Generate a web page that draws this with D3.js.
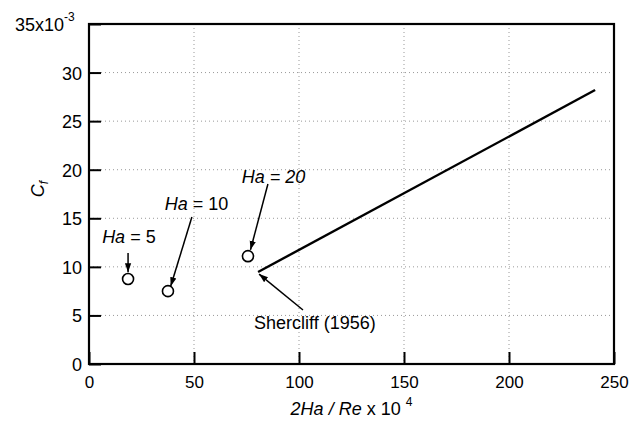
<!DOCTYPE html>
<html>
<head>
<meta charset="utf-8">
<script src="https://cdn.jsdelivr.net/npm/d3@7"></script>
<style>
  body { margin: 0; background: #fff; }
  text { font-family: "Liberation Sans", Arial, sans-serif; }
</style>
</head>
<body>
<div id="drawing_region"></div>
<script>
// measured points (x = 2Ha/Re x 10^4, y = Cf x 10^3)
const ha_labels = ["Ha = 5", "Ha = 10", "Ha = 20"];
const point_x = [18.6, 37.6, 75.7];
const point_y = [8.75, 7.5, 11.1];

// Shercliff (1956) line
const theory_x = [80.5, 241];
const theory_y = [9.47, 28.2];

const x_ticks = [0, 50, 100, 150, 200, 250];
const y_ticks = [0, 5, 10, 15, 20, 25, 30, 35];

// annotations: label position and arrow (data units)
const notes = [
    { pre: "Ha", post: " = 5",  all_italic: false, tx: 19.0,  ty: 12.45, ax0: 18.6,  ay0: 11.43, ax1: 18.6, ay1: 9.45 },
    { pre: "Ha", post: " = 10", all_italic: false, tx: 51.2,  ty: 15.85, ax0: 49.0,  ay0: 15.13, ax1: 38.9, ay1: 8.0 },
    { pre: "Ha", post: " = 20", all_italic: true,  tx: 87.9,  ty: 18.63, ax0: 85.2,  ay0: 18.53, ax1: 76.9, ay1: 11.75 },
    { pre: "", post: "Shercliff (1956)", all_italic: false, tx: 107.6, ty: 3.6, ax0: 101.9, ay0: 5.56, ax1: 81.0, ay1: 9.26 }
];

const config = { width: 640, height: 427, margin: { top: 24, right: 26, bottom: 63, left: 89 } };
const fs = 18;

const svg = d3.select('#drawing_region').append('svg')
    .attr('width', config.width)
    .attr('height', config.height);

const inner_width = config.width - config.margin.left - config.margin.right;
const inner_height = config.height - config.margin.top - config.margin.bottom;

const chart = svg.append('g')
    .attr('transform', `translate(${config.margin.left}, ${config.margin.top})`);

const xscale = d3.scaleLinear().domain([0, 250]).range([0, inner_width]);
const yscale = d3.scaleLinear().domain([0, 35]).range([inner_height, 0]);

// dotted grid
chart.selectAll('.gx').data(x_ticks.slice(1, -1)).join('line')
    .attr('x1', d => xscale(d)).attr('x2', d => xscale(d))
    .attr('y1', 0).attr('y2', inner_height)
    .attr('stroke', '#999').attr('stroke-width', 1).attr('stroke-dasharray', '1,3');
chart.selectAll('.gy').data(y_ticks.slice(1, -1)).join('line')
    .attr('y1', d => yscale(d)).attr('y2', d => yscale(d))
    .attr('x1', 0).attr('x2', inner_width)
    .attr('stroke', '#999').attr('stroke-width', 1).attr('stroke-dasharray', '1,3');

// axes with inward ticks
const xaxis = d3.axisBottom(xscale).tickValues(x_ticks).tickSizeInner(-12).tickSizeOuter(0);
const yaxis = d3.axisLeft(yscale).tickValues(y_ticks)
    .tickFormat(d => d === 35 ? '' : d).tickSizeInner(-12).tickSizeOuter(0);

const gx = chart.append('g').attr('transform', `translate(0, ${inner_height})`).call(xaxis);
const gy = chart.append('g').call(yaxis);
[gx, gy].forEach(g => {
    g.select('.domain').remove();
    g.selectAll('.tick line').attr('stroke', '#000').attr('stroke-width', 2);
    g.selectAll('.tick text').attr('fill', '#000')
        .attr('font-family', '"Liberation Sans", Arial, sans-serif');
});
gx.selectAll('.tick text').attr('font-size', 17).attr('y', 24).attr('dy', 0);
gy.selectAll('.tick text').attr('font-size', fs).attr('x', -7).attr('dy', '0.36em');

// frame
chart.append('rect')
    .attr('x', 0).attr('y', 0).attr('width', inner_width).attr('height', inner_height)
    .attr('fill', 'none').attr('stroke', '#000').attr('stroke-width', 2.2);

// 35x10^-3 label
const top_label = svg.append('text')
    .attr('x', 15).attr('y', config.margin.top + yscale(35) + 7)
    .attr('text-anchor', 'start').attr('font-size', fs);
top_label.append('tspan').text('35x10');
top_label.append('tspan').attr('font-size', 12).attr('dy', -10).text('-3');

// axis titles
const xtitle = chart.append('text')
    .attr('x', xscale(125)).attr('y', inner_height + 51)
    .attr('text-anchor', 'middle').attr('font-size', fs);
xtitle.append('tspan').attr('font-style', 'italic').text('2Ha / Re');
xtitle.append('tspan').text(' x 10');
xtitle.append('tspan').attr('font-size', 12).attr('dx', 5).attr('dy', -9).text('4');

const ytitle = svg.append('text')
    .attr('transform', `translate(44, ${config.margin.top + yscale(18.0)}) rotate(-90)`)
    .attr('text-anchor', 'middle').attr('font-size', fs).attr('font-style', 'italic');
ytitle.append('tspan').text('C');
ytitle.append('tspan').attr('font-size', 12).attr('dy', 4).text('f');

// theory line
const line = d3.line().x(d => xscale(d[0])).y(d => yscale(d[1]));
chart.append('path')
    .attr('d', line(d3.zip(theory_x, theory_y)))
    .attr('stroke', '#000').attr('stroke-width', 2.4).attr('fill', 'none');

// arrow heads
svg.append('defs').append('marker')
    .attr('id', 'arrow').attr('viewBox', '0 0 10 10')
    .attr('refX', 10).attr('refY', 5)
    .attr('markerWidth', 9).attr('markerHeight', 9)
    .attr('markerUnits', 'userSpaceOnUse')
    .attr('orient', 'auto')
    .append('path').attr('d', 'M0,1.5 L10,5 L0,8.5 Z').attr('fill', '#000');

chart.selectAll('.arrow').data(notes).join('line')
    .attr('x1', d => xscale(d.ax0)).attr('y1', d => yscale(d.ay0))
    .attr('x2', d => xscale(d.ax1)).attr('y2', d => yscale(d.ay1))
    .attr('stroke', '#000').attr('stroke-width', 1.5)
    .attr('marker-end', 'url(#arrow)');

notes.forEach(d => {
    const t = chart.append('text')
        .attr('x', xscale(d.tx)).attr('y', yscale(d.ty))
        .attr('text-anchor', 'middle').attr('font-size', fs);
    if (d.pre) t.append('tspan').attr('font-style', 'italic').text(d.pre);
    t.append('tspan').attr('font-style', d.all_italic ? 'italic' : 'normal').text(d.post);
});

// data points
chart.selectAll('.pt').data(point_x).join('circle')
    .attr('cx', d => xscale(d))
    .attr('cy', (d, i) => yscale(point_y[i]))
    .attr('r', 5.5)
    .attr('fill', '#fff').attr('stroke', '#000').attr('stroke-width', 1.6);
</script>
</body>
</html>
